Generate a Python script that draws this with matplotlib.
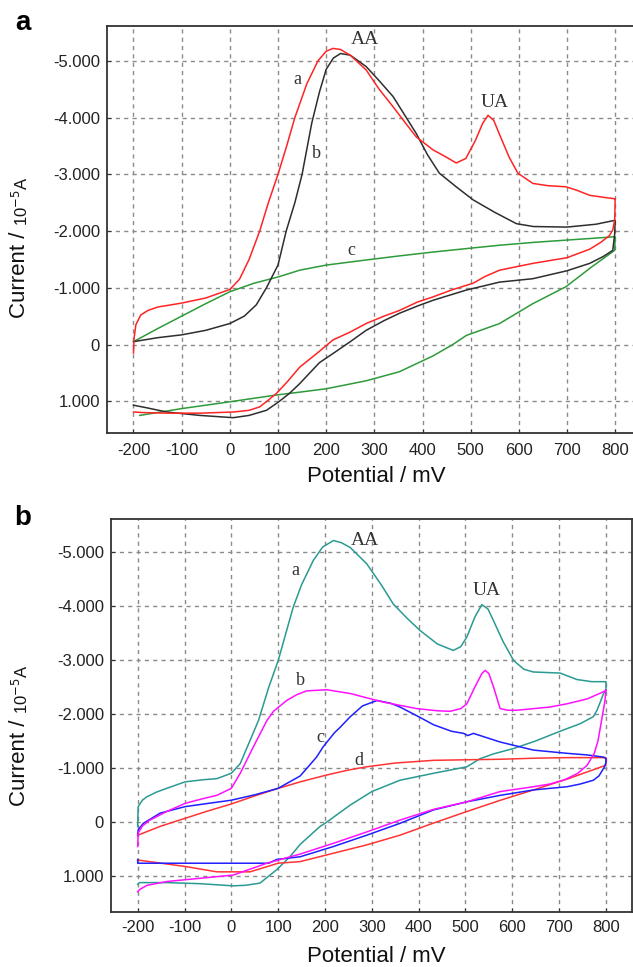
import matplotlib
matplotlib.use("Agg")
import matplotlib.pyplot as plt

# ---------------- data: panel a ----------------
a_top_E = [-200, -199, -195, -185, -170, -150, -100, -50, 0, 20, 40, 62, 80, 100, 118, 135, 160, 183, 200, 214,
           230, 250, 283, 310, 339, 365, 387, 422, 450, 470, 490, 510, 525, 536, 548, 560, 580, 598, 629, 660,
           698, 720, 747, 780, 799,
           800, 799, 795, 788, 770, 747, 700, 629, 600, 560, 530, 505, 460, 422, 390, 352, 320, 283, 250, 214,
           186, 145, 120, 97, 80, 62, 40, 7, -60, -131, -180, -200]
a_top_I = [0.15, -0.1, -0.35, -0.52, -0.6, -0.66, -0.73, -0.82, -0.97, -1.15, -1.5, -2.0, -2.5, -3.0, -3.5, -4.0,
           -4.6, -5.0, -5.17, -5.22, -5.2, -5.1, -4.84, -4.5, -4.19, -3.9, -3.66, -3.43, -3.3, -3.2, -3.28, -3.6,
           -3.9, -4.04, -3.95, -3.7, -3.3, -3.02, -2.84, -2.8, -2.78, -2.72, -2.63, -2.59, -2.57,
           -2.57, -2.2, -2.02, -1.92, -1.8, -1.68, -1.53, -1.43, -1.38, -1.31, -1.2, -1.08, -0.96, -0.84, -0.75,
           -0.60, -0.5, -0.37, -0.22, -0.08, 0.12, 0.40, 0.65, 0.86, 0.98, 1.10, 1.16, 1.19, 1.21, 1.21, 1.2, 1.19]

b_top_E = [-200, -150, -100, -50, 0, 30, 55, 76, 100, 117, 135, 150, 170, 186, 200, 215, 230, 250, 283, 310,
           339, 387, 410, 435, 470, 505, 550, 595, 630, 700, 760, 800,
           800, 799, 795, 775, 747, 700, 629, 560, 491, 422, 390, 352, 320, 283, 250, 214, 186, 145, 124, 100,
           76, 40, 7, -62, -131, -170, -200]
b_top_I = [-0.05, -0.12, -0.17, -0.25, -0.37, -0.5, -0.7, -1.0, -1.4, -2.0, -2.5, -3.0, -3.9, -4.45, -4.85,
           -5.05, -5.13, -5.1, -4.9, -4.65, -4.37, -3.72, -3.35, -3.02, -2.78, -2.55, -2.33, -2.13, -2.08, -2.07,
           -2.12, -2.19,
           -2.19, -1.95, -1.66, -1.55, -1.43, -1.30, -1.16, -1.10, -0.96, -0.78, -0.68, -0.55, -0.42, -0.25,
           -0.05, 0.16, 0.32, 0.69, 0.86, 1.02, 1.16, 1.25, 1.29, 1.25, 1.19, 1.12, 1.07]

c_top_E = [-200, -150, -100, -50, 0, 50, 100, 145, 200, 283, 350, 422, 490, 560, 630, 698, 750, 800,
           800, 799, 750, 698, 629, 560, 491, 463, 422, 352, 283, 200, 145, 97, 0, -100, -187]
c_top_I = [-0.05, -0.28, -0.5, -0.72, -0.93, -1.08, -1.19, -1.31, -1.40, -1.49, -1.56, -1.63, -1.69, -1.75,
           -1.80, -1.84, -1.87, -1.90,
           -1.90, -1.66, -1.36, -1.02, -0.72, -0.37, -0.16, 0.0, 0.2, 0.48, 0.64, 0.78, 0.84, 0.89, 1.01, 1.13,
           1.25]

# ---------------- data: panel b ----------------
a_bot_E = [-200, -199, -190, -181, -160, -138, -99, -60, -31, 0, 19, 40, 58, 80, 100, 132, 150, 175, 195, 218,
           235, 254, 289, 320, 346, 375, 403, 440, 474, 490, 503, 520, 535, 548, 560, 580, 603, 625, 645, 702,
           720, 738, 770, 799,
           800, 800, 795, 781, 773, 745, 702, 650, 603, 560, 531, 503, 432, 360, 300, 254, 200, 189,
           147, 125, 97, 61, 30, 4, -67, -138, -196, -200]
a_bot_I = [0.09, -0.28, -0.40, -0.46, -0.55, -0.62, -0.74, -0.78, -0.80, -0.90, -1.08, -1.51, -1.88, -2.5,
           -2.99, -3.98, -4.4, -4.85, -5.1, -5.22, -5.18, -5.09, -4.79, -4.4, -4.04, -3.78, -3.55, -3.3, -3.18,
           -3.25, -3.43, -3.8, -4.03, -3.95, -3.73, -3.35, -2.99, -2.83, -2.78, -2.76, -2.7, -2.64, -2.6, -2.6,
           -2.6, -2.45, -2.38, -2.07, -1.95, -1.82, -1.68, -1.5, -1.36, -1.26, -1.17, -1.02, -0.90, -0.77,
           -0.56, -0.31, 0.03, 0.09, 0.42, 0.65, 0.89, 1.14, 1.18, 1.19, 1.15, 1.13, 1.13, 1.16]

b_bot_E = [-200, -199, -190, -174, -138, -99, -60, -31, 0, 19, 47, 76, 90, 118, 140, 161, 204, 254, 325, 396,
           440, 467, 490, 503, 520, 535, 542, 550, 560, 574, 590, 610, 681, 717, 760, 799,
           800, 798, 795, 790, 783, 775, 760, 740, 712, 680, 645, 574, 503, 432, 360, 289, 218, 147, 76, 4,
           -67, -138, -180, -196, -200]
b_bot_I = [0.46, 0.21, 0.08, -0.03, -0.19, -0.34, -0.43, -0.49, -0.62, -0.90, -1.39, -1.88, -2.05, -2.25,
           -2.36, -2.43, -2.45, -2.38, -2.22, -2.10, -2.06, -2.05, -2.1, -2.19, -2.5, -2.75, -2.81, -2.75, -2.5,
           -2.10, -2.07, -2.07, -2.13, -2.19, -2.28, -2.43,
           -2.45, -2.25, -2.1, -1.85, -1.5, -1.27, -1.05, -0.90, -0.78, -0.70, -0.65, -0.56, -0.37, -0.23,
           -0.03, 0.19, 0.40, 0.60, 0.77, 0.99, 1.05, 1.11, 1.18, 1.26, 1.3]

c_bot_E = [-200, -199, -188, -152, -99, -50, 0, 50, 100, 147, 182, 196, 220, 232, 254, 280, 311, 340, 360, 400,
           432, 470, 496, 505, 517, 574, 645, 717, 760, 795, 800,
           800, 797, 785, 773, 745, 717, 645, 574, 503, 432, 360, 289, 218, 147, 97, 80, -200, -200]
c_bot_I = [0.25, 0.15, 0.03, -0.16, -0.28, -0.34, -0.40, -0.5, -0.62, -0.85, -1.20, -1.39, -1.65, -1.75,
           -1.95, -2.15, -2.25, -2.2, -2.13, -1.95, -1.80, -1.68, -1.64, -1.6, -1.64, -1.48, -1.33, -1.27, -1.24,
           -1.20, -1.17,
           -1.1, -1.02, -0.85, -0.77, -0.70, -0.65, -0.59, -0.49, -0.37, -0.22, 0.03, 0.25, 0.46, 0.65, 0.70,
           0.77, 0.77, 0.7]

d_bot_E = [-200, -150, -100, -50, 0, 50, 100, 147, 200, 250, 289, 350, 432, 500, 574, 650, 717, 800,
           800, 720, 645, 575, 503, 430, 360, 289, 220, 147, 100, 70, 40, -31, -99, -150, -200]
d_bot_I = [0.25, 0.08, -0.06, -0.2, -0.33, -0.48, -0.62, -0.74, -0.86, -0.96, -1.02, -1.09, -1.14, -1.15,
           -1.16, -1.18, -1.19, -1.19,
           -1.05, -0.80, -0.59, -0.40, -0.19, 0.03, 0.25, 0.43, 0.58, 0.74, 0.77, 0.85, 0.93, 0.93, 0.83, 0.77,
           0.71]

x_ticks = [-200, -100, 0, 100, 200, 300, 400, 500, 600, 700, 800]
y_ticks = [-5, -4, -3, -2, -1, 0, 1]
y_tick_labels = ['-5.000', '-4.000', '-3.000', '-2.000', '-1.000', '0', '1.000']

W, H = 633, 967
fig = plt.figure(figsize=(W / 100, H / 100), dpi=100)
fig.patch.set_facecolor('white')

SANS = 'Liberation Sans'
SERIF = 'Liberation Serif'


def px_axes(l, t, r, b):
    return [l / W, 1 - b / H, (r - l) / W, (b - t) / H]


def style(ax, xlim, ylim, xpad):
    ax.set_xlim(*xlim)
    ax.set_ylim(*ylim)
    ax.set_xticks(x_ticks)
    ax.set_xticklabels([str(v) for v in x_ticks], fontfamily=SANS, fontsize=12, color='#222222')
    ax.set_yticks(y_ticks)
    ax.set_yticklabels(y_tick_labels, fontfamily=SANS, fontsize=12, color='#222222')
    ax.tick_params(direction='in', length=3, width=0.8, color='#333333')
    ax.tick_params(axis='y', pad=5)
    ax.tick_params(axis='x', pad=xpad)
    ax.grid(True, linestyle=(0, (3, 3)), color='#8a8a8a', linewidth=1.0)
    ax.set_axisbelow(True)
    for s in ax.spines.values():
        s.set_linewidth(1.3)
        s.set_color('#333333')


# ---------- panel a ----------
ax1 = fig.add_axes(px_axes(107, 25.7, 633, 433))
style(ax1, (-255, 837), (1.56, -5.62), 7)
ax1.spines['right'].set_visible(False)
ax1.plot(c_top_E, c_top_I, color='#2e9a3a', lw=1.1)
ax1.plot(b_top_E, b_top_I, color='#2e2e2e', lw=1.1)
ax1.plot(a_top_E, a_top_I, color='#ff2424', lw=1.1)

ax1.text(140, -4.67, 'a', family=SERIF, fontsize=13, ha='center', va='center', color='#333333')
ax1.text(180, -3.37, 'b', family=SERIF, fontsize=13, ha='center', va='center', color='#333333')
ax1.text(252, -1.65, 'c', family=SERIF, fontsize=13, ha='center', va='center', color='#333333')
ax1.text(280, -5.38, 'AA', family=SERIF, fontsize=14, ha='center', va='center', color='#333333')
ax1.text(550, -4.26, 'UA', family=SERIF, fontsize=14, ha='center', va='center', color='#333333')

# ---------- panel b ----------
ax2 = fig.add_axes(px_axes(111, 519, 631.7, 911.7))
style(ax2, (-257, 855), (1.67, -5.62), 6)
ax2.plot(a_bot_E, a_bot_I, color='#2a9a92', lw=1.1)
ax2.plot(d_bot_E, d_bot_I, color='#ff3333', lw=1.1)
ax2.plot(c_bot_E, c_bot_I, color='#1f1fff', lw=1.1)
ax2.plot(b_bot_E, b_bot_I, color='#ff10ff', lw=1.1)

ax2.text(136, -4.66, 'a', family=SERIF, fontsize=13, ha='center', va='center', color='#333333')
ax2.text(147, -2.62, 'b', family=SERIF, fontsize=13, ha='center', va='center', color='#333333')
ax2.text(190, -1.57, 'c', family=SERIF, fontsize=13, ha='center', va='center', color='#333333')
ax2.text(273, -1.13, 'd', family=SERIF, fontsize=13, ha='center', va='center', color='#333333')
ax2.text(286, -5.23, 'AA', family=SERIF, fontsize=14, ha='center', va='center', color='#333333')
ax2.text(546, -4.29, 'UA', family=SERIF, fontsize=14, ha='center', va='center', color='#333333')


# ---------- labels ----------
def fx(px):
    return px / W


def fy(py):
    return 1 - py / H


for cy in (476, 956):
    fig.text(fx(376), fy(cy), 'Potential / mV', family=SANS, fontsize=16, ha='center', va='center',
             color='#111111')

fig.text(fx(23), fy(23), 'a', family=SANS, fontsize=20, fontweight='bold', ha='center', va='center')
fig.text(fx(23), fy(518), 'b', family=SANS, fontsize=20, fontweight='bold', ha='center', va='center')

fig.canvas.draw()
renderer = fig.canvas.get_renderer()
for ybot in (318, 806):
    t1 = fig.text(fx(20), fy(ybot), 'Current / ', family=SANS, fontsize=16, rotation=90,
                  ha='center', va='bottom', color='#111111')
    bb = t1.get_window_extent(renderer=renderer)
    fig.text(fx(21), bb.y1 / H, '10$^{-5}$A',
             family=SANS, fontsize=12, rotation=90, ha='center', va='bottom', color='#111111')

fig.savefig('out.png', dpi=100, facecolor='white')
